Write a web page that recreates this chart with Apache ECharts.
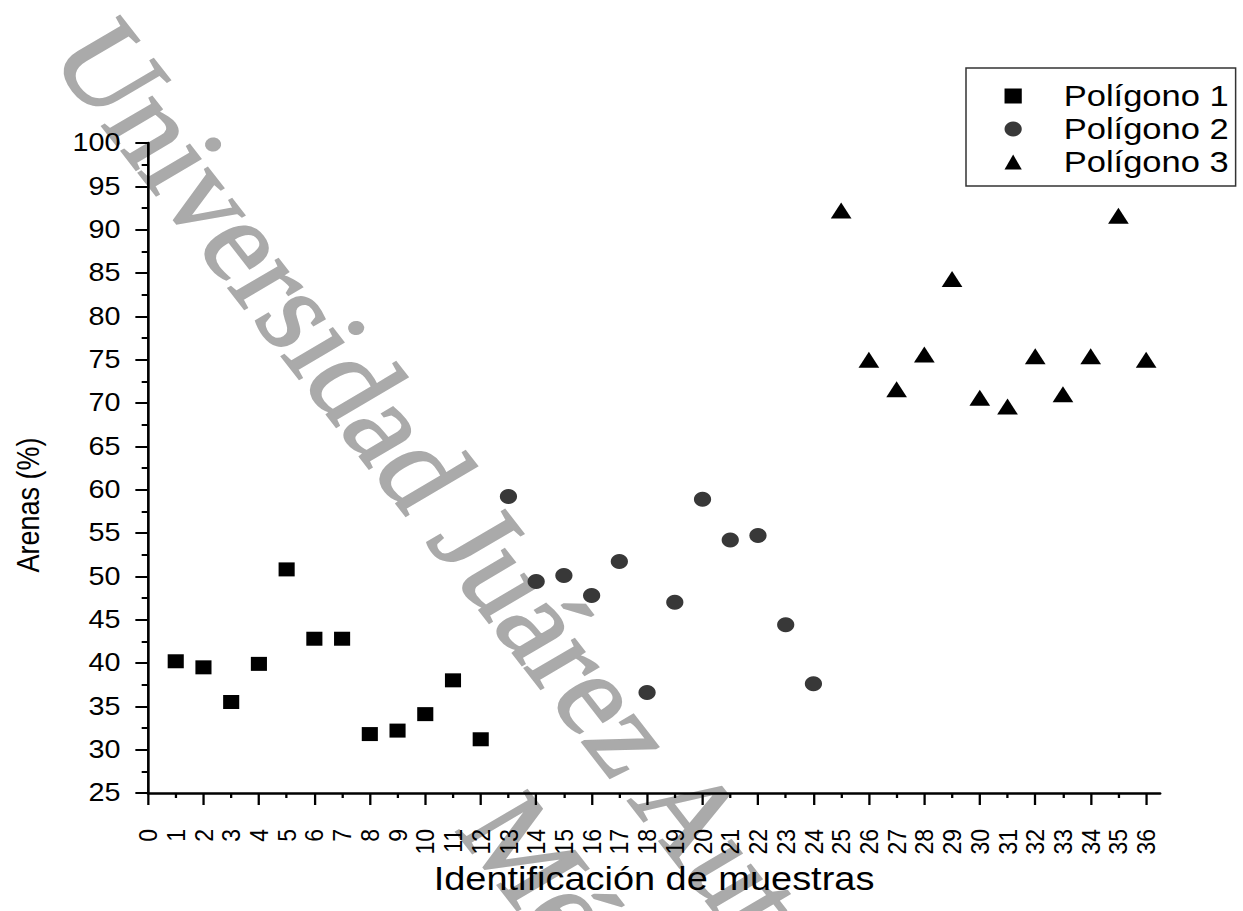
<!DOCTYPE html>
<html>
<head>
<meta charset="utf-8">
<script src="https://cdn.jsdelivr.net/npm/echarts@6/dist/echarts.min.js"></script>
<style>
  html, body { margin: 0; padding: 0; background: #ffffff; overflow: hidden; }
  #chart { width: 1081px; height: 911px; transform: scaleX(1.15); transform-origin: 0 0; }
</style>
</head>
<body>
<div id="chart"></div>
<script>
// Sample identifiers and sand content (%) per polygon
const samples1 = [1, 2, 3, 4, 5, 6, 7, 8, 9, 10, 11, 12];
const arenas1  = [40.2, 39.5, 35.5, 39.9, 50.8, 42.8, 42.8, 31.8, 32.2, 34.1, 38.0, 31.2];

const samples2 = [13, 14, 15, 16, 17, 18, 19, 20, 21, 22, 23, 24];
const arenas2  = [59.2, 49.4, 50.1, 47.8, 51.7, 36.6, 47.0, 58.9, 54.2, 54.7, 44.4, 37.6];

const samples3 = [25, 26, 27, 28, 29, 30, 31, 32, 33, 34, 35, 36];
const arenas3  = [92.2, 75.0, 71.6, 75.6, 84.3, 70.6, 69.6, 75.4, 71.0, 75.4, 91.6, 75.0];

const seriesNames = ['Polígono 1', 'Polígono 2', 'Polígono 3'];

// Axis ticks
const xTickLabels = [0, 1, 2, 3, 4, 5, 6, 7, 8, 9, 10, 11, 12, 13, 14, 15, 16, 17, 18,
                     19, 20, 21, 22, 23, 24, 25, 26, 27, 28, 29, 30, 31, 32, 33, 34, 35, 36];
const yTickLabels = [25, 30, 35, 40, 45, 50, 55, 60, 65, 70, 75, 80, 85, 90, 95, 100];

const xMajor = xTickLabels.filter(v => v % 2 === 0);
const xMinor = xTickLabels.filter(v => v % 2 === 1);

const pairs = (xs, ys) => xs.map((x, i) => [x, ys[i]]);

const FONT = 'Liberation Sans, Arial, sans-serif';
const SERIF = 'Liberation Serif, Times New Roman, serif';
const WM_ANGLE = -55.9 * Math.PI / 180;

const chart = echarts.init(document.getElementById('chart'), null, { renderer: 'svg' });

const axisCommon = {
  min: 0,
  max: 36.5,
  type: 'value',
  position: 'bottom',
  splitLine: { show: false }
};

const watermarkStyle = (text) => ({
  text: text,
  fontFamily: SERIF, fontSize: 114,
  fill: '#aaaaaa', stroke: '#aaaaaa', lineWidth: 2,
  align: 'center', verticalAlign: 'middle'
});

chart.setOption({
  backgroundColor: '#ffffff',
  animation: false,
  graphic: [
    {
      type: 'text', z: -10, x: 609.7, y: 827, rotation: WM_ANGLE, silent: true,
      style: watermarkStyle('Universidad Juárez Autónoma de Tabasco')
    },
    {
      type: 'text', z: -10, x: 524, y: 952, rotation: WM_ANGLE, silent: true,
      style: watermarkStyle('México')
    },
    {
      // vertical axis title
      type: 'text', z: 5, x: 25, y: 505, rotation: Math.PI / 2, silent: true,
      style: {
        text: 'Arenas (%)', fontFamily: FONT, fontSize: 27, fill: '#000000',
        align: 'center', verticalAlign: 'middle'
      }
    }
  ],
  grid: {
    left: 128.7, right: 72.3, top: 143, bottom: 118,
    containLabel: false, outerBoundsMode: 'none'
  },
  legend: {
    orient: 'vertical',
    left: 840, top: 68,
    padding: [13, 6, 9, 33.5],
    borderColor: '#333333', borderWidth: 1.3,
    itemWidth: 15, itemHeight: 15, itemGap: 3,
    z: 6,
    textStyle: { fontFamily: FONT, fontSize: 30, color: '#000000', padding: [0, 0, 0, 31.5] },
    data: seriesNames
  },
  xAxis: [
    Object.assign({}, axisCommon, {
      z: 5,
      name: 'Identificación de muestras',
      nameLocation: 'middle',
      nameGap: 69,
      nameTextStyle: { fontFamily: FONT, fontSize: 33, color: '#000000' },
      axisLine: { show: true, onZero: false, lineStyle: { color: '#000000', width: 2.5 } },
      axisTick: { show: true, customValues: xMajor, length: 12, inside: false,
                  lineStyle: { color: '#000000', width: 2 } },
      axisLabel: { show: true, customValues: xTickLabels, rotate: 90, margin: 36,
                   hideOverlap: false,
                   fontFamily: FONT, fontSize: 23, color: '#000000' }
    }),
    Object.assign({}, axisCommon, {
      z: 5,
      axisLine: { show: false, onZero: false },
      axisTick: { show: true, customValues: xMinor, length: 5, inside: false,
                  lineStyle: { color: '#000000', width: 2 } },
      axisLabel: { show: false }
    })
  ],
  yAxis: {
    type: 'value',
    z: 5,
    min: 25, max: 100, interval: 5,
    splitLine: { show: false },
    axisLine: { show: true, onZero: false, lineStyle: { color: '#000000', width: 2.3 } },
    axisTick: { show: true, customValues: yTickLabels, length: 11,
                lineStyle: { color: '#000000', width: 2 } },
    minorTick: { show: true, splitNumber: 2, length: 5.5,
                 lineStyle: { color: '#000000', width: 2 } },
    axisLabel: { customValues: yTickLabels, margin: 24,
                 fontFamily: FONT, fontSize: 25, color: '#000000' }
  },
  series: [
    {
      name: seriesNames[0], type: 'scatter', z: 5,
      xAxisIndex: 0, symbol: 'rect', symbolSize: 14,
      itemStyle: { color: '#000000', opacity: 1 },
      data: pairs(samples1, arenas1)
    },
    {
      name: seriesNames[1], type: 'scatter', z: 5,
      xAxisIndex: 0, symbol: 'circle', symbolSize: 15,
      itemStyle: { color: '#383838', opacity: 1 },
      data: pairs(samples2, arenas2)
    },
    {
      name: seriesNames[2], type: 'scatter', z: 5,
      xAxisIndex: 0, symbol: 'triangle', symbolSize: [18, 16],
      itemStyle: { color: '#000000', opacity: 1 },
      data: pairs(samples3, arenas3)
    }
  ]
});
</script>
</body>
</html>
